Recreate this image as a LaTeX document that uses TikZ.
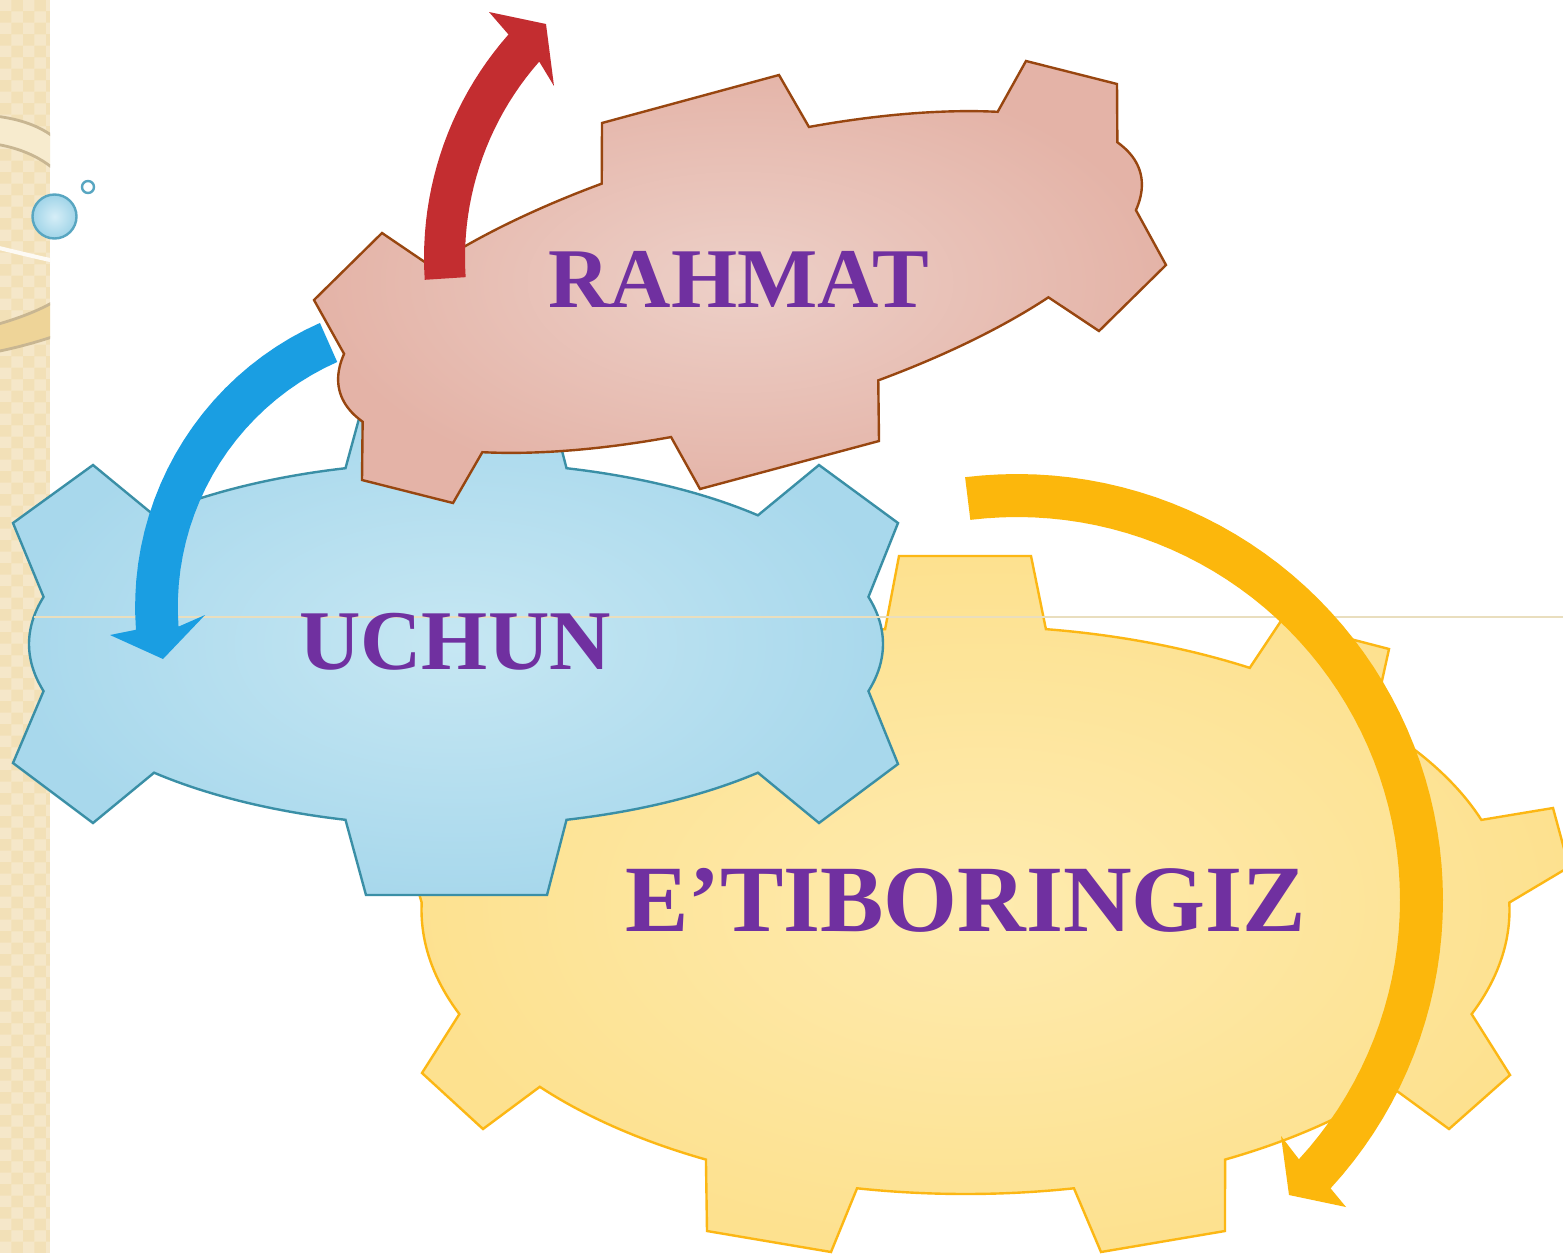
\documentclass[tikz,border=0pt]{standalone}
\usepackage{fontspec}
\setmainfont{Liberation Serif}
\usetikzlibrary{patterns}
\definecolor{stripc}{RGB}{242,224,183}
\definecolor{stripline}{RGB}{200,182,146}
\definecolor{stripband}{RGB}{238,212,152}
\definecolor{striplight}{RGB}{247,235,206}
\definecolor{bluein}{RGB}{198,231,243}
\definecolor{blueout}{RGB}{168,216,236}
\definecolor{bluestroke}{RGB}{58,143,166}
\definecolor{pinkin}{RGB}{237,208,200}
\definecolor{pinkout}{RGB}{228,179,167}
\definecolor{pinkstroke}{RGB}{152,70,16}
\definecolor{yellowin}{RGB}{254,235,175}
\definecolor{yellowout}{RGB}{253,225,143}
\definecolor{yellowstroke}{RGB}{252,183,20}
\definecolor{arrred}{RGB}{195,45,48}
\definecolor{arrblue}{RGB}{26,158,226}
\definecolor{arryellow}{RGB}{252,183,12}
\definecolor{txtpurple}{RGB}{112,48,160}
\definecolor{hline}{RGB}{233,222,190}
\definecolor{bubblein}{RGB}{214,238,247}
\definecolor{bubbleout}{RGB}{160,212,232}
\definecolor{bubblestroke}{RGB}{88,166,193}
\tikzset{
  gearline/.style={line width=1.2pt, line join=miter},
  bluegear/.style={gearline, draw=bluestroke, inner color=bluein, outer color=blueout},
  pinkgear/.style={gearline, draw=pinkstroke, inner color=pinkin, outer color=pinkout},
  yellowgear/.style={gearline, draw=yellowstroke, inner color=yellowin, outer color=yellowout},
  label/.style={anchor=base, inner sep=0pt, text=txtpurple, font=\bfseries},
  arc/.style={samples=24, variable=\t}
}
\begin{document}
\begin{tikzpicture}[x=0.5pt, y=-0.5pt]
\useasboundingbox (0,0) rectangle (1563,1253);
\begin{scope}
\clip (0,0) rectangle (1563,1253);
\fill[white] (0,0) rectangle (1563,1253);

% left decorative strip
\fill[stripc] (0,0) rectangle (50,1253);
\begin{scope}
\clip (0,0) rectangle (50,1253);
\fill[pattern=checkerboard, pattern color=white, opacity=0.25] (0,0) rectangle (50,1253);
\fill[striplight] (-5,116) .. controls (20,119) and (40,126) .. (55,138)
  -- (55,170) .. controls (40,157) and (20,148) .. (-5,144) -- cycle;
\fill[stripband] (-5,325) .. controls (20,318) and (40,310) .. (55,301)
  -- (55,336) .. controls (40,341) and (20,347) .. (-5,352) -- cycle;
\draw[stripline, line width=1.4pt] (-5,116) .. controls (20,119) and (40,126) .. (55,138);
\draw[stripline, line width=1.4pt] (-5,144) .. controls (20,148) and (40,157) .. (55,170);
\draw[white!85!stripc, line width=2pt] (-5,247) .. controls (20,253) and (40,258) .. (55,261);
\draw[stripline, line width=1.4pt] (-5,325) .. controls (20,318) and (40,310) .. (55,301);
\draw[stripline, line width=1.4pt] (-5,352) .. controls (20,347) and (40,341) .. (55,336);
\end{scope}

% bubbles
\draw[bubblestroke, line width=1.2pt, inner color=bubblein, outer color=bubbleout]
  (54.5,216.5) circle[radius=22];
\draw[bubblestroke, line width=1.2pt, fill=white] (88,187) circle[radius=6];

% yellow gear
\filldraw[yellowgear] (899,556) -- (1031,556)
  -- plot[arc, domain=-81.5:-58.5] ({965.5+544*cos(\t)},{910+284*sin(\t)})
  -- (1281,621) -- (1389,649)
  -- plot[arc, domain=-41.5:-18.5] ({965.5+544*cos(\t)},{910+284*sin(\t)})
  -- (1553,808) -- (1569,867)
  -- plot[arc, domain=-1.5:21.5] ({965.5+544*cos(\t)},{910+284*sin(\t)})
  -- (1510,1075) -- (1449,1129)
  -- plot[arc, domain=38.5:61.5] ({965.5+544*cos(\t)},{910+284*sin(\t)})
  -- (1225,1231) -- (1101,1252)
  -- plot[arc, domain=78.5:101.5] ({965.5+544*cos(\t)},{910+284*sin(\t)})
  -- (831,1252) -- (707,1231)
  -- plot[arc, domain=118.5:141.5] ({965.5+544*cos(\t)},{910+284*sin(\t)})
  -- (483,1129) -- (422,1073)
  -- plot[arc, domain=158.5:181.5] ({965.5+544*cos(\t)},{910+284*sin(\t)})
  -- (415,880) -- (400,808)
  -- plot[arc, domain=198.5:221.5] ({965.5+544*cos(\t)},{910+284*sin(\t)})
  -- (542,649) -- (650,621)
  -- plot[arc, domain=238.5:261.5] ({965.5+544*cos(\t)},{910+284*sin(\t)})
  -- cycle;

% blue gear
\filldraw[bluegear] (366,393) -- (547,393)
  -- plot[arc, domain=-75:-45] ({456+427*cos(\t)},{644+182*sin(\t)})
  -- (819,465) -- (898,523)
  -- plot[arc, domain=-15:15] ({456+427*cos(\t)},{644+182*sin(\t)})
  -- (898,764) -- (819,823)
  -- plot[arc, domain=45:75] ({456+427*cos(\t)},{644+182*sin(\t)})
  -- (547,895) -- (366,895)
  -- plot[arc, domain=105:135] ({456+427*cos(\t)},{644+182*sin(\t)})
  -- (93,823) -- (13,763)
  -- plot[arc, domain=165:195] ({456+427*cos(\t)},{644+182*sin(\t)})
  -- (13,523) -- (93,465)
  -- plot[arc, domain=225:255] ({456+427*cos(\t)},{644+182*sin(\t)})
  -- cycle;

% pink gear
\filldraw[pinkgear] (602,123) -- (779,75)
  -- plot[arc, domain=-75:-45] ({740+400.29*cos(\t)+35.89*sin(\t)},{282-109.51*cos(\t)+131.18*sin(\t)})
  -- (1026,61) -- (1117,84)
  -- plot[arc, domain=-15:15] ({740+400.29*cos(\t)+35.89*sin(\t)},{282-109.51*cos(\t)+131.18*sin(\t)})
  -- (1166,265) -- (1099,331)
  -- plot[arc, domain=45:75] ({740+400.29*cos(\t)+35.89*sin(\t)},{282-109.51*cos(\t)+131.18*sin(\t)})
  -- (879,441) -- (700,489)
  -- plot[arc, domain=105:135] ({740+400.29*cos(\t)+35.89*sin(\t)},{282-109.51*cos(\t)+131.18*sin(\t)})
  -- (453,503) -- (362,480)
  -- plot[arc, domain=165:195] ({740+400.29*cos(\t)+35.89*sin(\t)},{282-109.51*cos(\t)+131.18*sin(\t)})
  -- (314,300) -- (382,233)
  -- plot[arc, domain=225:255] ({740+400.29*cos(\t)+35.89*sin(\t)},{282-109.51*cos(\t)+131.18*sin(\t)})
  -- cycle;

% thin horizontal rule
\coordinate (hl) at (34,617);
\coordinate (hr) at (1563,617);
\draw[hline, line width=0.8pt] (hl) -- (hr);

% labels
\node[label, font=\bfseries\fontsize{42.5}{50}\selectfont] (rahmat) at (739,307) {RAHMAT};
\node[label, font=\bfseries\fontsize{42.5}{50}\selectfont] (uchun) at (455,669) {UCHUN};
\node[label, font=\bfseries\fontsize{47.5}{56}\selectfont] (etibor) at (965.5,931) {E’TIBORINGIZ};

% red circular arrow
\fill[arrred]
  plot[arc, domain=176.3:221.4] ({762+338*cos(\t)},{258+338*sin(\t)})
  -- (489,12) -- (546,24) -- (554,86)
  -- plot[arc, domain=221.4:176.3] ({762+297*cos(\t)},{258+297*sin(\t)})
  -- cycle;

% blue circular arrow
\fill[arrblue]
  plot[arc, domain=246.1:175.8] ({445.8+310.7*cos(\t)},{607+310.7*sin(\t)})
  -- (110,635) -- (163,659) -- (205,615)
  -- plot[arc, domain=175.8:246.1] ({445.8+268*cos(\t)},{607+268*sin(\t)})
  -- cycle;

% yellow circular arrow
\fill[arryellow]
  plot[arc, domain=-97:42.6, samples=60] ({1017+426*cos(\t)},{900+426*sin(\t)})
  -- (1346,1207) -- (1289,1195) -- (1281,1136)
  -- plot[arc, domain=42.6:-97, samples=60] ({1017+383*cos(\t)},{900+383*sin(\t)})
  -- cycle;
\end{scope}
\end{tikzpicture}
\end{document}
